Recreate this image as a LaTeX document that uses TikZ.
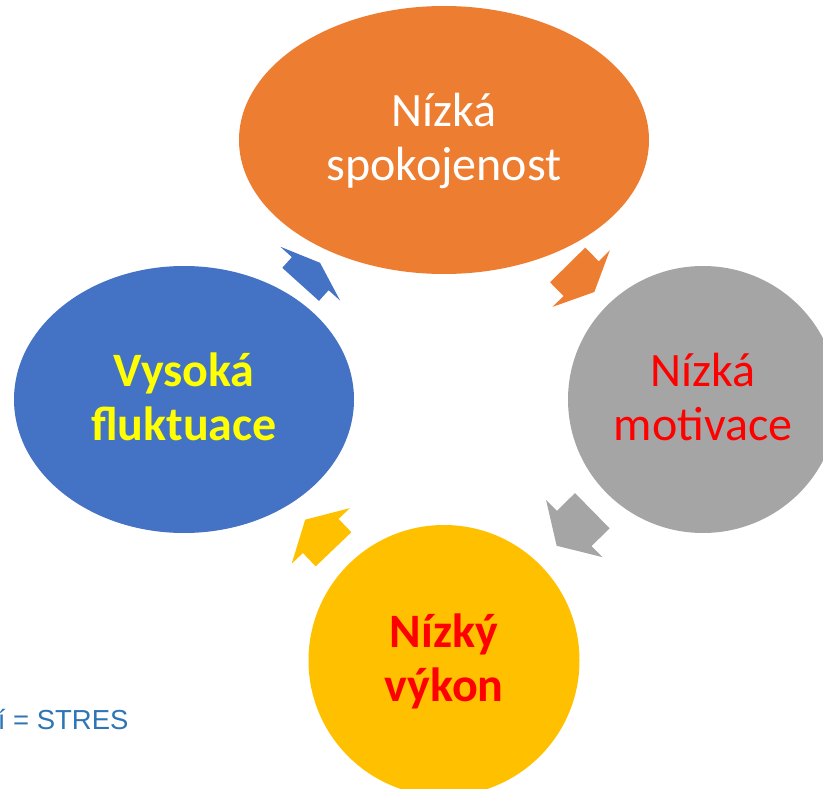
\documentclass[tikz,border=0pt]{standalone}
\usepackage{fontspec}
\setmainfont{Carlito}
\newfontfamily\stresfont{Liberation Sans}
\usetikzlibrary{positioning}
\usetikzlibrary{shapes.geometric}
\usetikzlibrary{shapes.arrows}
\usetikzlibrary{calc}
\definecolor{cycorange}{HTML}{ED7D31}
\definecolor{cycgray}{HTML}{A5A5A5}
\definecolor{cycyellow}{HTML}{FFC000}
\definecolor{cycblue}{HTML}{4472C4}
\definecolor{cyctext}{HTML}{FFFF00}
\definecolor{stresblue}{HTML}{2E75B6}

\begin{document}
\begin{tikzpicture}
    [
    x=1pt, y=-1pt,
    on grid,
    phase/.style={ellipse, inner sep=0pt, align=center, font=\fontsize{48}{54}\selectfont, text height=92pt, text depth=10pt},
    bold phase/.style={phase, font=\fontsize{48}{54}\selectfont\bfseries},
    cyclearrow/.style={single arrow, inner xsep=0pt, inner ysep=24.5pt, single arrow head extend=15.5pt, anchor=tail},
    ]

    \useasboundingbox (0,0) rectangle (823,789);

    \node[phase, fill=cycorange, text=white, minimum width=410pt, minimum height=268pt] (ph_spokojenost) at (444,140)
    {Nízká\\spokojenost};

    \node[bold phase, fill=cycblue, text=cyctext, minimum width=340pt, minimum height=267pt, below left = 259.5pt and 260pt of ph_spokojenost] (ph_fluktuace)
    {Vysoká\\fluktuace};

    \node[phase, fill=cycgray, text=red, minimum width=270pt, minimum height=267pt, below right = 259.5pt and 259pt of ph_spokojenost] (ph_motivace)
    {Nízká\\motivace};

    \node[bold phase, circle, fill=cycyellow, text=red, minimum size=271pt, below = 520.5pt of ph_spokojenost] (ph_vykon)
    {Nízký\\výkon};

    \node[cyclearrow, fill=cycblue, minimum height=29pt, single arrow tip angle=140, rotate=48] (arr_fluktuace)
    at ($(ph_fluktuace)!0.5!(ph_spokojenost)+(-13.5,14.75)$) {};
    \node[cyclearrow, fill=cycorange, minimum height=38pt, single arrow tip angle=130, rotate=-45.4] (arr_spokojenost)
    at ($(ph_spokojenost)!0.5!(ph_motivace)+(-6,-4.95)$) {};
    \node[cyclearrow, fill=cycgray, minimum height=50pt, single arrow tip angle=117, rotate=-135.5] (arr_motivace)
    at ($(ph_motivace)!0.5!(ph_vykon)+(18.95,-19.45)$) {};
    \node[cyclearrow, fill=cycyellow, minimum height=41pt, single arrow tip angle=121.5, rotate=133.7] (arr_vykon)
    at ($(ph_vykon)!0.5!(ph_fluktuace)+(19.65,19.45)$) {};

    \node[anchor=base east, text=stresblue, font=\stresfont\fontsize{27.5}{33}\selectfont] (lbl_stres) at (132,729)
    {í = STRES};
\end{tikzpicture}
\end{document}
